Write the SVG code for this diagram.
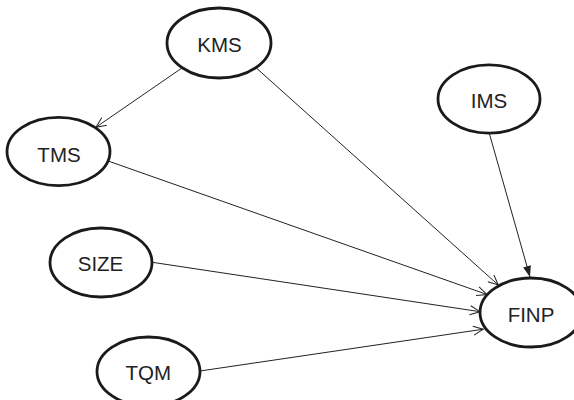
<svg xmlns="http://www.w3.org/2000/svg" width="574" height="400" viewBox="0 0 574 400">
<style>
.node ellipse{fill:#fff;stroke:#1a1a1a;stroke-width:2.8}
.node text{font-family:"Liberation Sans",Arial,sans-serif;font-size:20.5px;fill:#222;text-anchor:middle}
.edge{stroke:#222;stroke-width:1;fill:none}
</style>
<defs>
<marker id="open" markerUnits="userSpaceOnUse" markerWidth="14" markerHeight="12" refX="10" refY="4.5" orient="auto" overflow="visible">
<path d="M0,0 L10,4.5 L0,9" fill="none" stroke="#222" stroke-width="1"/>
</marker>
<marker id="solid" markerUnits="userSpaceOnUse" markerWidth="14" markerHeight="12" refX="11" refY="4" orient="auto" overflow="visible">
<path d="M0,0 L11,4 L0,8 z" fill="#222"/>
</marker>
</defs>
<rect width="574" height="400" fill="#fff"/>
<g id="connectors">
<line class="edge" x1="181.5" y1="68.3" x2="96" y2="127.2" marker-end="url(#open)"/>
<line class="edge" x1="256.7" y1="68.3" x2="498.3" y2="285" marker-end="url(#open)"/>
<line class="edge" x1="103.3" y1="159.3" x2="487" y2="294.5" marker-end="url(#open)"/>
<line class="edge" x1="152.3" y1="262.3" x2="480" y2="311.7" marker-end="url(#open)"/>
<line class="edge" x1="200" y1="371" x2="483.3" y2="329.2" marker-end="url(#open)"/>
<line class="edge" x1="489.3" y1="133.3" x2="530" y2="277" marker-end="url(#solid)"/>
</g>
<g id="KMS" class="node"><ellipse cx="219" cy="43" rx="52" ry="35"/><text x="219.5" y="51.5">KMS</text></g>
<g id="TMS" class="node"><ellipse cx="58.5" cy="151.5" rx="51.5" ry="34.2"/><text x="59" y="162">TMS</text></g>
<g id="IMS" class="node"><ellipse cx="489" cy="99" rx="51" ry="34.2"/><text x="489" y="108">IMS</text></g>
<g id="SIZE" class="node"><ellipse cx="101" cy="262.5" rx="51" ry="34.5"/><text x="100.5" y="271">SIZE</text></g>
<g id="TQM" class="node"><ellipse cx="148.5" cy="371.5" rx="51.5" ry="34.5"/><text x="148.3" y="380">TQM</text></g>
<g id="FINP" class="node"><ellipse cx="531" cy="312.5" rx="51" ry="34.5"/><text x="531" y="322">FINP</text></g>
</svg>
